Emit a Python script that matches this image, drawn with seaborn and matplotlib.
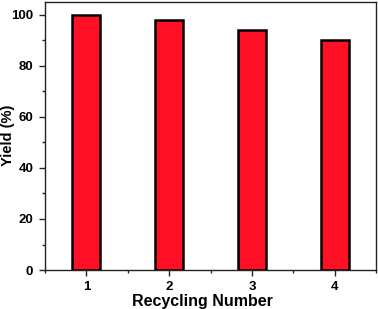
import matplotlib
matplotlib.use("Agg")
import matplotlib.pyplot as plt
import seaborn as sns
import pandas as pd
from matplotlib.ticker import MultipleLocator

# datos
cycles = ["1", "2", "3", "4"]
yields = [100, 98, 94, 90]

df = pd.DataFrame({"cycle": cycles, "yield": yields})

sns.set_style("ticks")
plt.rcParams["font.family"] = ["Liberation Sans", "DejaVu Sans"]
plt.rcParams["font.weight"] = "bold"

fig = plt.figure(figsize=(3.78, 3.09), dpi=100)
ax = fig.add_axes([0.119, 0.126, 0.876, 0.868])

sns.barplot(data=df, x="cycle", y="yield", color="#FF1024", saturation=1,
            width=0.34, edgecolor="black", linewidth=1.8, ax=ax)

ax.set_xlim(-0.5, 3.5)
ax.set_ylim(0, 105)
ax.yaxis.set_major_locator(MultipleLocator(20))
ax.yaxis.set_minor_locator(MultipleLocator(10))
ax.xaxis.set_minor_locator(MultipleLocator(0.5))
ax.tick_params(axis="both", which="major", direction="out", length=4, width=1,
               labelsize=9.5, labelcolor="black")
ax.tick_params(axis="y", which="major", pad=4.5)
ax.tick_params(axis="x", which="major", pad=4)
ax.tick_params(axis="both", which="minor", direction="out", length=2.5, width=1)
for lab in ax.get_xticklabels() + ax.get_yticklabels():
    lab.set_fontweight("bold")
for s in ax.spines.values():
    s.set_visible(True)
    s.set_linewidth(1)
    s.set_color("#222222")

ax.set_xlabel("Recycling Number", fontsize=11.5, fontweight="bold", color="black")
ax.set_ylabel("Yield (%)", fontsize=10.5, fontweight="bold", color="black")
ax.xaxis.set_label_coords(0.476, -0.09)
ax.yaxis.set_label_coords(-0.09, 0.504)

fig.savefig("out.png", dpi=100)
